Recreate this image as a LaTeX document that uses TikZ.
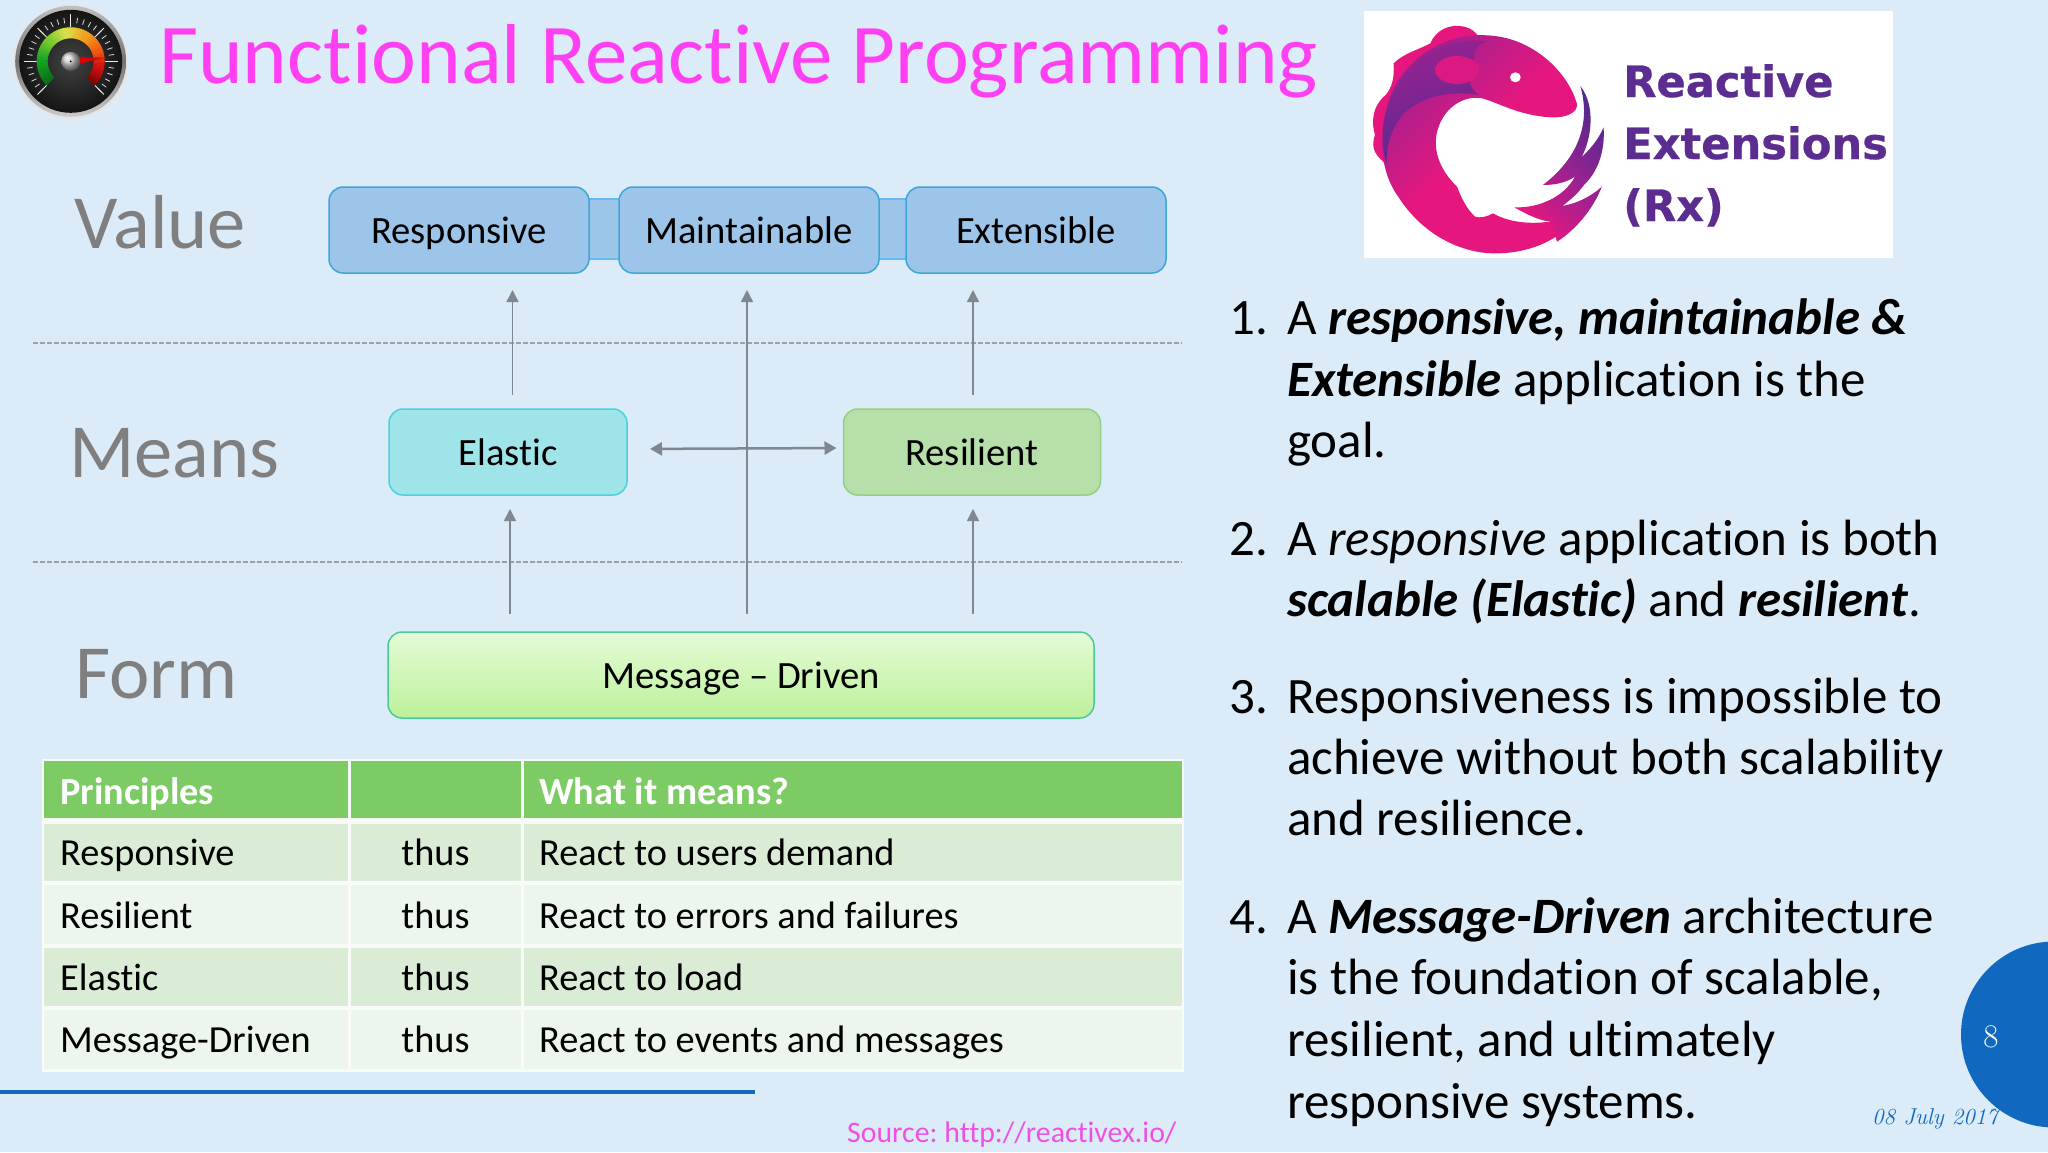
\documentclass[tikz,border=0pt]{standalone}
\usepackage{fontspec}
\newfontfamily\carl[Ligatures=NoCommon]{Carlito}
\newfontfamily\dvb[BoldFeatures={FakeBold=0.6}]{DejaVu Sans}
\frenchspacing
\usetikzlibrary{arrows.meta,calc}
\definecolor{bgc}{HTML}{DBECF8}
\definecolor{titlec}{HTML}{FF40F2}
\definecolor{srcc}{HTML}{F04FE6}
\definecolor{labelc}{HTML}{7F7F7F}
\definecolor{arrowc}{HTML}{7F888E}
\definecolor{dashc}{HTML}{97A3AB}
\definecolor{bluefill}{HTML}{9DC5E9}
\definecolor{blueedge}{HTML}{3EA5DA}
\definecolor{baredge}{HTML}{62BCF0}
\definecolor{cyanfill}{HTML}{9FE4E8}
\definecolor{cyanedge}{HTML}{45D3DC}
\definecolor{greenfill}{HTML}{B7DFA9}
\definecolor{greenedge}{HTML}{93D083}
\definecolor{msgtop}{HTML}{E5FBD6}
\definecolor{msgbot}{HTML}{BCF19A}
\definecolor{msgedge}{HTML}{48CB9B}
\definecolor{headc}{HTML}{7CCB64}
\definecolor{rowa}{HTML}{DAEBD6}
\definecolor{rowb}{HTML}{EDF6EC}
\definecolor{slideblue}{HTML}{1168BF}
\definecolor{fishpink}{HTML}{E5177F}
\definecolor{fishmid}{HTML}{9A2290}
\definecolor{fishpurple}{HTML}{55298F}
\definecolor{rxtext}{HTML}{5C2D91}
\definecolor{ga}{HTML}{0A6E18}
\definecolor{gb}{HTML}{14A222}
\definecolor{gc}{HTML}{7CCB30}
\definecolor{gd}{HTML}{DCE24A}
\definecolor{ge}{HTML}{F5A31F}
\definecolor{gf}{HTML}{EE5A10}
\definecolor{gg}{HTML}{D81010}
\definecolor{gh}{HTML}{820505}
\newcommand{\gaugeseg}[4]{%
  \foreach \i in {0,...,9}{%
    \pgfmathsetmacro\aa{#1+(#2-#1)*\i/10}%
    \pgfmathsetmacro\bb{#1+(#2-#1)*(\i+1.15)/10}%
    \pgfmathtruncatemacro\mm{100*\i/9}%
    \fill[#4!\mm!#3] (\aa:34) arc[start angle=\aa,end angle=\bb,radius=34] -- (\bb:23) arc[start angle=\bb,end angle=\aa,radius=23] -- cycle;%
  }}
\tikzset{
  boxlabel/.style={inner sep=0pt,outer sep=0pt,line width=1.5pt,rounded corners=14pt,
    text height=26pt,text depth=0pt,font=\carl\fontsize{38.6}{46}\selectfont,text=black},
  valuebox/.style={boxlabel,draw=blueedge,fill=bluefill,minimum width=260pt,minimum height=86pt},
  elasticbox/.style={boxlabel,draw=cyanedge,fill=cyanfill,minimum width=238pt,minimum height=86pt},
  resilientbox/.style={boxlabel,draw=greenedge,fill=greenfill,minimum width=257pt,minimum height=86pt},
  messagebox/.style={boxlabel,draw=msgedge,top color=msgtop,bottom color=msgbot,minimum width=706pt,minimum height=86pt},
  flow/.style={draw=arrowc,line width=1.5pt,-{Triangle[length=12pt,width=12pt]}},
  both/.style={draw=arrowc,line width=2.5pt,{Triangle[length=12pt,width=13pt]}-{Triangle[length=12pt,width=13pt]}},
  sep/.style={draw=dashc,line width=1.2pt,dash pattern=on 5pt off 2pt},
  levelt/.style={anchor=base west,inner sep=0pt,text=labelc,font=\carl\fontsize{76.5}{90}\selectfont},
  cellt/.style={anchor=base west,inner sep=0pt,text=black,font=\carl\fontsize{38.3}{46}\selectfont},
  thust/.style={anchor=base,inner sep=0pt,text=black,font=\carl\fontsize{38.3}{46}\selectfont},
  headt/.style={anchor=base west,inner sep=0pt,text=white,font=\carl\bfseries\fontsize{38.3}{46}\selectfont},
  bodyt/.style={anchor=base west,inner sep=0pt,text=black,font=\carl\fontsize{51}{60}\selectfont},
  rxt/.style={anchor=base west,inner sep=0pt,text=rxtext,font=\dvb\bfseries\fontsize{43.2}{50}\selectfont},
}
\begin{document}
\begin{tikzpicture}[x=1pt,y=-1pt]
\useasboundingbox (0,0) rectangle (2048,1152);
\clip (0,0) rectangle (2048,1152);
\fill[bgc] (0,0) rectangle (2048,1152);

% gauge
\begin{scope}[shift={(70.7,61.3)},x=1pt,y=1pt]
  \fill[black!10] (0,-1) circle (57);
  \shade[top color=white!75!black,bottom color=white!80!black,middle color=black!55] (0,0) circle (55.5);
  \shade[inner color=black!74,outer color=black!92] (0,0) circle (51.5);
  \foreach \a in {225,216,...,-45}{\draw[white!85!black,line width=0.8pt] (\a:38.5) -- (\a:44);}
  \foreach \a in {225,180,135,90,45,0,-45}{\draw[white!92!black,line width=0.9pt] (\a:34) -- (\a:47);}
  \gaugeseg{225}{180}{ga}{gb}
  \gaugeseg{180}{135}{gb}{gc}
  \gaugeseg{135}{100}{gc}{gd}
  \gaugeseg{100}{60}{gd}{ge}
  \gaugeseg{60}{20}{ge}{gf}
  \gaugeseg{20}{-10}{gf}{gg}
  \gaugeseg{-10}{-45}{gg}{gh}
  \fill[red!88!black] (3,4) -- (34.5,3.5) -- (3,-3.5) -- cycle;
  \shade[ball color=white!80!black] (0,0) circle (9.5);
  \fill[black] (0,0) circle (1);
\end{scope}

% title
\node[anchor=base west,inner sep=0pt,text=titlec,font=\carl\fontsize{85.1}{100}\selectfont] (title) at (159,83) {Functional Reactive Programming};

% Rx logo
\fill[white] (1364,11) rectangle (1893,258);
\begin{scope}[shift={(1350,0)},x=0.35714pt,y=-0.33333pt]
  \fill[fishpink] (110,500) .. controls (75,470) and (55,450) .. (70,405) .. controls (60,370) and (60,320) .. (100,285) .. controls (115,265) and (125,240) .. (122,190) .. controls (150,160) and (190,150) .. (225,130) .. controls (240,90) and (280,70) .. (320,80) .. controls (340,85) and (350,95) .. (360,110) -- (300,300) -- cycle;
  % body: one shape, magenta at upper left fading into pink
  \shade[top color=fishmid,bottom color=fishpink,middle color=fishpink,shading angle=45] (635,310) .. controls (610,220) and (530,140) .. (440,115) .. controls (330,85) and (200,125) .. (130,250) .. controls (70,370) and (80,510) .. (135,590) .. controls (200,700) and (310,765) .. (420,760) .. controls (480,757) and (540,740) .. (590,700) -- (560,665) .. controls (510,672) and (450,670) .. (400,640) .. controls (385,650) and (365,655) .. (350,650) .. controls (325,625) and (310,590) .. (300,560) .. controls (250,510) and (225,440) .. (250,375) .. controls (270,320) and (320,285) .. (370,295) .. controls (420,310) and (470,345) .. (560,352) .. controls (600,355) and (640,340) .. (635,310) -- cycle;
  % purple band
  \shade[top color=fishmid,bottom color=fishpurple,shading angle=20] (103,495) .. controls (70,380) and (110,240) .. (210,165) .. controls (260,130) and (330,115) .. (385,125) .. controls (350,130) and (340,170) .. (350,200) .. controls (320,235) and (340,270) .. (360,285) .. controls (300,275) and (220,275) .. (150,340) .. controls (115,385) and (100,440) .. (103,495) -- cycle;
  \fill[fishpink!85!fishmid] (300,210) ellipse (62 and 42);
  % tail
  \shade[left color=fishpink,right color=fishpurple,middle color=fishmid,shading angle=135] (645,258) .. controls (690,320) and (675,420) .. (648,472) .. controls (670,450) and (695,420) .. (710,382) .. controls (715,460) and (690,520) .. (655,555) .. controls (635,585) and (615,600) .. (595,618) .. controls (635,610) and (675,590) .. (705,560) .. controls (680,630) and (630,690) .. (580,725) -- (560,665) .. controls (525,660) and (490,640) .. (460,622) .. controls (530,625) and (600,590) .. (630,530) .. controls (605,548) and (575,555) .. (540,555) .. controls (620,490) and (680,390) .. (645,258) -- cycle;
  \fill[white] (463,232) circle (15 and 15);
\end{scope}
\node[rxt] (rx1) at (1623,97) {Reactive};
\node[rxt] (rx2) at (1623,159) {Extensions};
\node[rxt] (rx3) at (1623,221) {(Rx)};

% level labels
\node[levelt] (lvalue) at (74,248) {Value};
\node[levelt] (lmeans) at (69,477) {Means};
\node[levelt] (lform) at (75,698) {Form};

% separators
\draw[sep] (33,343) -- (1182,343);
\draw[sep] (33,562) -- (1182,562);

% link bars behind value boxes
\filldraw[fill=bluefill,draw=baredge,line width=1.5pt] (580,199) rectangle (630,259);
\filldraw[fill=bluefill,draw=baredge,line width=1.5pt] (870,199) rectangle (915,259);

% nodes
\node[valuebox] (responsive) at (459,230) {Responsive};
\node[valuebox] (maintainable) at (749,230) {Maintainable};
\node[valuebox] (extensible) at (1036,230) {Extensible};
\node[elasticbox] (elastic) at (508,452) {Elastic};
\node[resilientbox] (resilient) at (972,452) {Resilient};
\node[messagebox] (message) at (741,675) {Message – Driven};

% arrow columns
\coordinate (xa) at (512.5,0);
\coordinate (xb) at (747,0);
\coordinate (xc) at (973,0);
\coordinate (xd) at (510,0);
\draw[flow,shorten <=14pt,shorten >=17pt] (elastic.north -| xa) -- (responsive.south -| xa);
\draw[flow,shorten <=14pt,shorten >=17pt] (resilient.north -| xc) -- (extensible.south -| xc);
\draw[flow,shorten <=18pt,shorten >=17pt] (message.north -| xb) -- (maintainable.south -| xb);
\draw[flow,shorten <=18pt,shorten >=14pt] (message.north -| xd) -- (elastic.south -| xd);
\draw[flow,shorten <=18pt,shorten >=14pt] (message.north -| xc) -- (resilient.south -| xc);
\coordinate (ya) at (0,449);
\coordinate (yb) at (0,448);
\draw[both,shorten <=23pt,shorten >=7pt] (elastic.east |- ya) -- (resilient.west |- yb);

% table
\fill[white!60!rowb] (42,759) rectangle (1184,1072);
\fill[headc] (44,761) rectangle (348,818);
\fill[headc] (350.5,761) rectangle (521,818);
\fill[headc] (523.5,761) rectangle (1182,818);
\foreach \ya/\yb/\c in {824/881/rowa,885/944/rowb,948/1006/rowa,1010/1069/rowb}{
  \fill[\c] (44,\ya) rectangle (348,\yb);
  \fill[\c] (350.5,\ya) rectangle (521,\yb);
  \fill[\c] (523.5,\ya) rectangle (1182,\yb);
}
\node[headt] (h1) at (60,804) {Principles};
\node[headt] (h3) at (539,804) {What it means?};
\node[cellt] (a1) at (60,865) {Responsive};
\node[thust] (b1) at (435.5,865) {thus};
\node[cellt] (c1) at (539,865) {React to users demand};
\node[cellt] (a2) at (60,928) {Resilient};
\node[thust] (b2) at (435.5,928) {thus};
\node[cellt] (c2) at (539,928) {React to errors and failures};
\node[cellt] (a3) at (60,990) {Elastic};
\node[thust] (b3) at (435.5,990) {thus};
\node[cellt] (c3) at (539,990) {React to load};
\node[cellt] (a4) at (60,1052) {Message-Driven};
\node[thust] (b4) at (435.5,1052) {thus};
\node[cellt] (c4) at (539,1052) {React to events and messages};

\draw[slideblue,line width=4.5pt] (0,1092) -- (755,1092);
\node[anchor=base west,inner sep=0pt,text=srcc,font=\carl\fontsize{29.8}{36}\selectfont] (source) at (847,1142) {Source: http://reactivex.io/};

% right text
\node[bodyt] (n1) at (1229,334) {1.};
\node[bodyt] (t1a) at (1287,334) {A \textbf{\textit{responsive, maintainable \&}}};
\node[bodyt] (t1b) at (1287,396) {\textbf{\textit{Extensible}} application is the};
\node[bodyt] (t1c) at (1287,457) {goal.};
\node[bodyt] (n2) at (1229,555) {2.};
\node[bodyt] (t2a) at (1287,555) {A \textit{responsive} application is both};
\node[bodyt] (t2b) at (1287,616) {\textbf{\textit{scalable (Elastic)}} and \textbf{\textit{resilient}}.};
\node[bodyt] (n3) at (1229,713) {3.};
\node[bodyt] (t3a) at (1287,713) {Responsiveness is impossible to};
\node[bodyt] (t3b) at (1287,774) {achieve without both scalability};
\node[bodyt] (t3c) at (1287,835) {and resilience.};
\node[bodyt] (n4) at (1229,933) {4.};
\node[bodyt] (t4a) at (1287,933) {A \textbf{\textit{Message-Driven}} architecture};
\node[bodyt] (t4b) at (1287,994) {is the foundation of scalable,};
\node[bodyt] (t4c) at (1287,1056) {resilient, and ultimately};
\node[bodyt] (t4d) at (1287,1118) {responsive systems.};

% page badge
\fill[slideblue] (2054,1034.5) circle (93);
\node[anchor=base,inner sep=0pt,text=white,font=\fontsize{33}{38}\selectfont] (page) at (1991,1047) {8};
\node[anchor=base west,inner sep=0pt,text=slideblue,font=\itshape\fontsize{23}{28}\selectfont] (date) at (1872,1124) {08 July 2017};
\end{tikzpicture}
\end{document}
